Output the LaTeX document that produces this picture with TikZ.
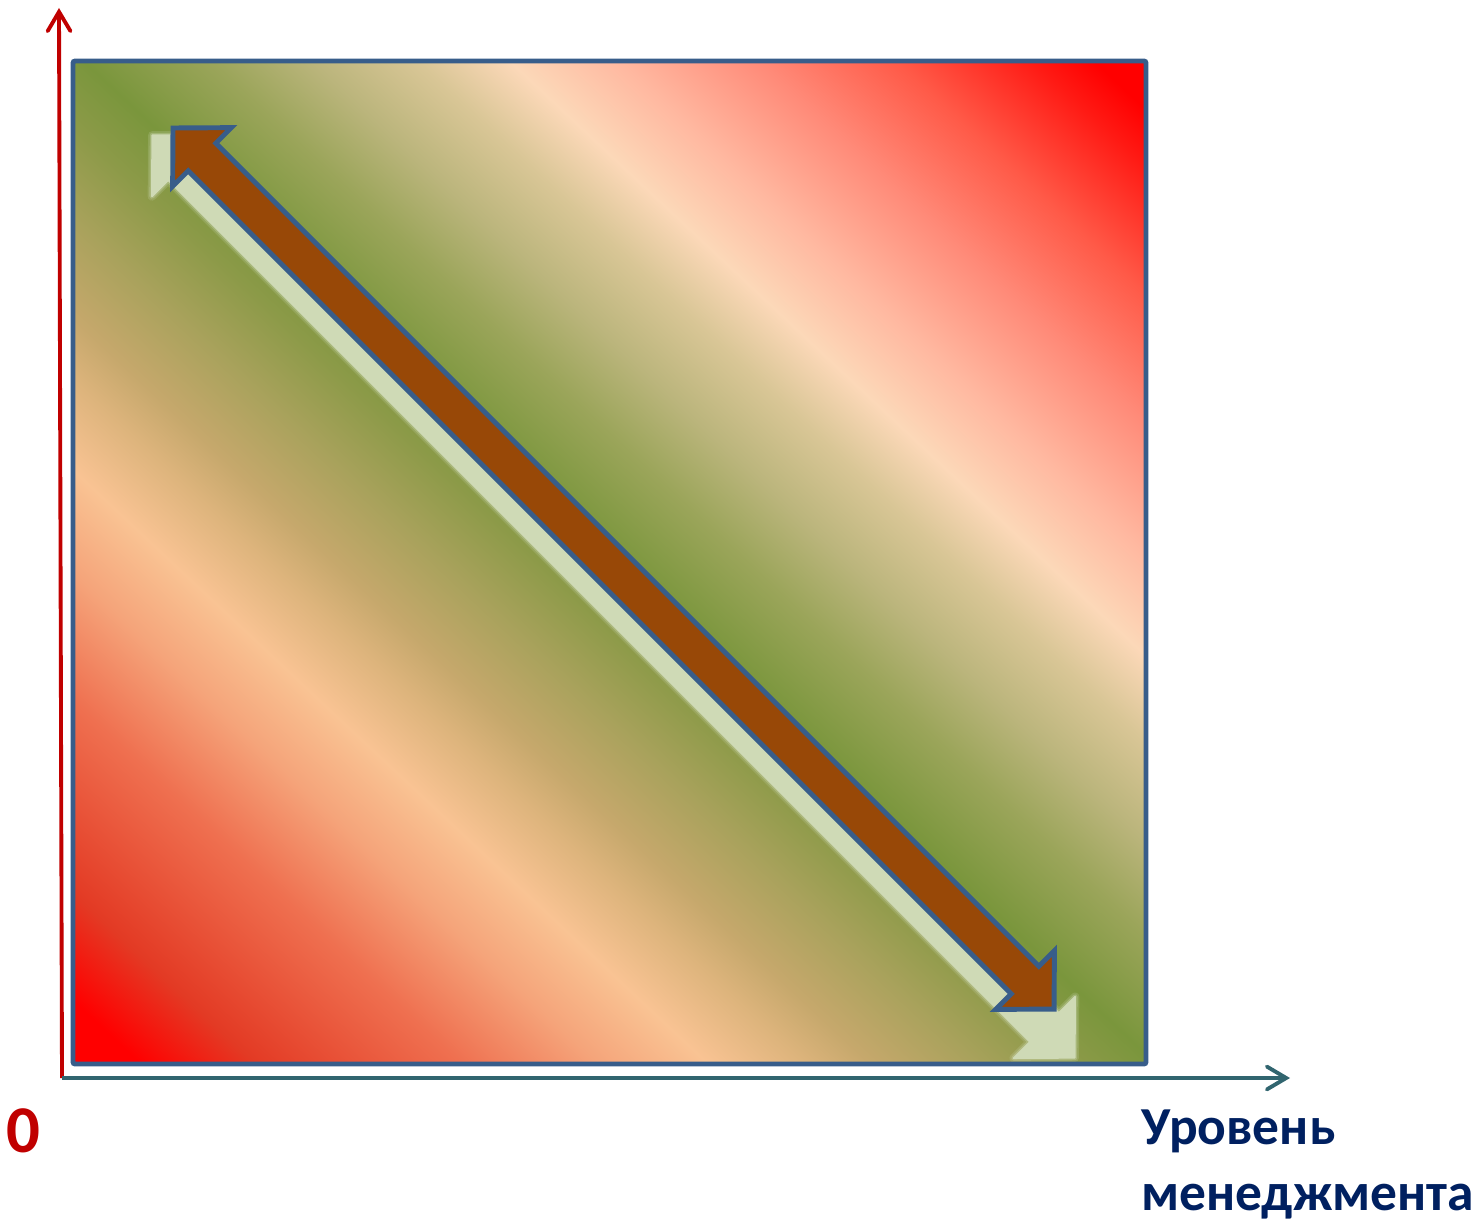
\documentclass[tikz,border=0pt]{standalone}
\usepackage{fontspec}
\setmainfont{Carlito}
\usetikzlibrary{arrows.meta}
\definecolor{axisred}{HTML}{C00000}
\definecolor{axisteal}{HTML}{31656F}
\definecolor{frameblue}{HTML}{385D8A}
\definecolor{arrowbrown}{HTML}{984807}
\definecolor{glowgreen}{HTML}{CFDAB6}
\definecolor{labelnavy}{HTML}{002060}
\definecolor{fa}{HTML}{E33A24}
\definecolor{fb}{HTML}{EF7050}
\definecolor{fc}{HTML}{F5A47A}
\definecolor{fd}{HTML}{F9C393}
\definecolor{fe}{HTML}{DDB47C}
\definecolor{ff}{HTML}{C6A86C}
\definecolor{fg}{HTML}{A9A25C}
\definecolor{fh}{HTML}{8C9A48}
\definecolor{fi}{HTML}{7A963C}
\definecolor{fj}{HTML}{9BA55A}
\definecolor{fk}{HTML}{BBB57C}
\definecolor{fl}{HTML}{D9C696}
\definecolor{fm}{HTML}{FCD8B8}
\definecolor{fn}{HTML}{FFB8A0}
\definecolor{fo}{HTML}{FF8A78}
\definecolor{fp}{HTML}{FF5A48}
\definecolor{fq}{HTML}{FF1A14}
\pgfdeclarehorizontalshading{fieldshade}{100bp}{color(0bp)=(red); color(26.9bp)=(red);
  color(29.5bp)=(fa); color(34.2bp)=(fb); color(37.3bp)=(fc); color(39.8bp)=(fd);
  color(42bp)=(fe); color(43.5bp)=(ff); color(45.9bp)=(fg); color(48.2bp)=(fh);
  color(50bp)=(fi); color(52.9bp)=(fj); color(55.2bp)=(fk); color(57.6bp)=(fl);
  color(59.7bp)=(fm); color(62.2bp)=(fn); color(65.4bp)=(fo); color(68.5bp)=(fp);
  color(71.6bp)=(fq); color(73bp)=(red); color(100bp)=(red)}
\def\arrowshape{(0,0) -- (41,41.5) -- (41,19.5) -- (1205,19.5) -- (1205,41.5) -- (1246,0)
  -- (1205,-41.5) -- (1205,-19.5) -- (41,-19.5) -- (41,-41.5) -- cycle}

\begin{document}
\begin{tikzpicture}[
  x=0.01cm,y=0.01cm,
  every node/.style={inner sep=0pt},
  frame/.style={draw=frameblue,line width=1.4pt,rounded corners=0.6pt},
  bigarrow/.style={fill=arrowbrown,draw=frameblue,line width=1.4pt,line join=miter},
  glow/.style={draw=glowgreen,line join=round},
  yaxis/.style={draw=axisred,line width=1.1pt,-{Straight Barb[length=5.5pt,width=6.5pt,line cap=round]}},
  xaxis/.style={draw=axisteal,line width=1.1pt,-{Straight Barb[length=5.5pt,width=6.5pt,line cap=round]}}
]
\useasboundingbox (0,0) rectangle (1481,1223);
\coordinate (boxsw) at (73,159);
\coordinate (boxne) at (1146,1162);
\coordinate (origin) at (62,145);
\coordinate (ytip) at (59,1215);
\coordinate (xtip) at (1290,145);
\begin{scope}
  \clip (boxsw) rectangle (boxne);
  \begin{scope}[transform canvas={shift={(93,1153)},rotate=46.93}]
    \shade[shading=fieldshade] (-750,-1600) rectangle (750,150);
  \end{scope}
\end{scope}
\begin{scope}[shift={(0,-28)},scale around={1.047:(614,655)}]
  \begin{scope}[shift={(173,1095)},rotate=-45]
    \draw[glow,line width=2.4pt,opacity=0.2] \arrowshape;
    \draw[glow,line width=1.4pt,opacity=0.35] \arrowshape;
    \filldraw[glow,fill=glowgreen,line width=0.5pt] \arrowshape;
  \end{scope}
\end{scope}
\begin{scope}[shift={(173,1095)},rotate=-45]
  \filldraw[bigarrow] \arrowshape;
\end{scope}
\draw[frame] (boxsw) rectangle (boxne);
\draw[yaxis] (origin) -- (ytip);
\draw[xaxis] (origin) -- (xtip);
\node[text=axisred,font=\bfseries\fontsize{19}{22}\selectfont] (zero) at (23,92) {0};
\node[anchor=north west,align=left,text=labelnavy,font=\bfseries\fontsize{15.2}{18.9}\selectfont] (xlabel) at (1141,114) {Уровень\\менеджмента};
\end{tikzpicture}
\end{document}
